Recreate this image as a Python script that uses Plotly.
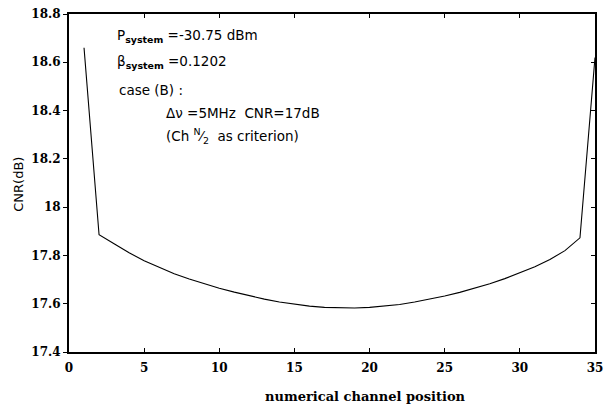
import plotly.graph_objects as go

# Channel positions and the resulting CNR per channel
channel = list(range(1, 36))
cnr_db = [18.66, 17.886, 17.848, 17.811, 17.778, 17.750, 17.724, 17.702, 17.682,
          17.664, 17.648, 17.633, 17.619, 17.607, 17.597, 17.590, 17.585, 17.582,
          17.582, 17.585, 17.590, 17.597, 17.607, 17.619, 17.632, 17.647, 17.664,
          17.683, 17.704, 17.727, 17.753, 17.783, 17.820, 17.873, 18.62]

x_ticks = [0, 5, 10, 15, 20, 25, 30, 35]
y_ticks = [17.4, 17.6, 17.8, 18.0, 18.2, 18.4, 18.6, 18.8]
y_tick_text = ["17.4", "17.6", "17.8", "18", "18.2", "18.4", "18.6", "18.8"]

W, H = 610, 411
L, R, T, B = 69, 7, 12, 59
plot_w, plot_h = W - L - R, H - T - B

tick_font = dict(family="DejaVu Serif", size=12, color="black", weight="bold")
note_font = dict(family="DejaVu Sans", size=13.5, color="black")


def px_to_paper(px, py):
    """Convert page pixel coordinates to plot-area paper fractions."""
    return (px - L) / plot_w, (H - B - py) / plot_h


fig = go.Figure()
fig.add_trace(go.Scatter(x=channel, y=cnr_db, mode="lines",
                         line=dict(color="black", width=1.1),
                         showlegend=False, hoverinfo="skip", cliponaxis=False))
# invisible companion trace so the right-hand frame axis is drawn
fig.add_trace(go.Scatter(x=[channel[0]], y=[cnr_db[0]], yaxis="y2", mode="markers",
                         marker=dict(opacity=0), showlegend=False, hoverinfo="skip"))

fig.update_layout(
    width=W, height=H,
    margin=dict(l=L, r=R, t=T, b=B),
    paper_bgcolor="white", plot_bgcolor="white",
    xaxis=dict(range=[0, 35], tickvals=x_ticks, ticks="inside", ticklen=4,
               tickcolor="black", showline=True, linecolor="black", linewidth=1.5,
               mirror="ticks", showgrid=False, zeroline=False, tickfont=tick_font,
               ticklabeloverflow="allow", ticklabelstandoff=4),
    yaxis=dict(range=[17.4, 18.8], tickvals=y_ticks, ticktext=y_tick_text,
               ticks="outside", ticklen=4, tickcolor="black", showline=True,
               linecolor="black", linewidth=2, showgrid=False, zeroline=False,
               tickfont=tick_font),
    yaxis2=dict(range=[17.4, 18.8], tickvals=y_ticks, overlaying="y", side="right",
                ticks="inside", ticklen=4, tickcolor="black", showline=True,
                linecolor="black", linewidth=1.5, showticklabels=False,
                showgrid=False, zeroline=False),
)

notes = [
    (116, 34, "P<sub><b>system</b></sub> =-30.75 dBm"),
    (116, 60, "β<sub><b>system</b></sub> =0.1202"),
    (118, 88, "case (B) :"),
    (165, 112, "Δν =5MHz  CNR=17dB"),
    (165, 135, "(Ch <sup>N</sup>⁄<sub>2</sub>  as criterion)"),
]
for px, py, txt in notes:
    ax, ay = px_to_paper(px, py)
    fig.add_annotation(x=ax, y=ay, xref="paper", yref="paper",
                       xanchor="left", yanchor="middle", text=txt,
                       showarrow=False, font=note_font)

tx, ty = px_to_paper(370, 397)
fig.add_annotation(x=tx, y=ty, xref="paper", yref="paper",
                   xanchor="center", yanchor="middle",
                   text="numerical channel position", showarrow=False,
                   font=dict(family="DejaVu Serif", size=13, color="black", weight="bold"))
yx, yy = px_to_paper(18, 183)
fig.add_annotation(x=yx, y=yy, xref="paper", yref="paper",
                   xanchor="center", yanchor="middle", textangle=-90,
                   text="CNR(dB)", showarrow=False,
                   font=dict(family="DejaVu Sans", size=13, color="black"))

fig.write_html("out.html")
